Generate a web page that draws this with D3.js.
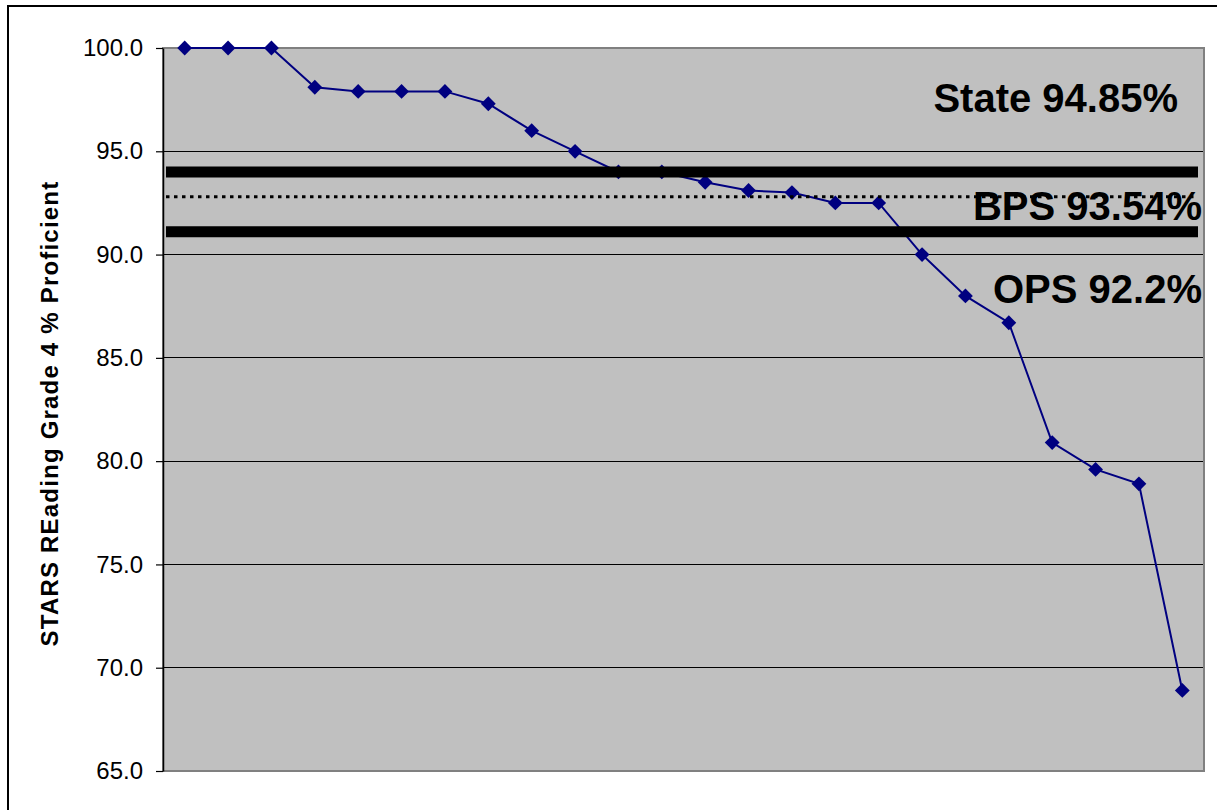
<!DOCTYPE html>
<html>
<head>
<meta charset="utf-8">
<script src="https://cdn.jsdelivr.net/npm/d3@7"></script>
<style>
  html, body { margin: 0; padding: 0; background: #ffffff; }
  svg { display: block; font-family: Arial, "Liberation Sans", sans-serif; }
</style>
</head>
<body>
<svg id="chart" width="1217" height="810"></svg>
<script>
// ---- data ----
const schools = d3.range(1, 25).map(i => "S" + i);
const proficiency = [100, 100, 100, 98.1, 97.9, 97.9, 97.9, 97.3, 96.0, 95.0, 94.0, 94.0,
                     93.5, 93.1, 93.0, 92.5, 92.5, 90.0, 88.0, 86.7, 80.9, 79.6, 78.9, 68.9];
const yTicks = [65, 70, 75, 80, 85, 90, 95, 100];
const refLineValues = [94.0, 92.8, 91.1];
const refLineStyles = ["thick", "dotted", "thick"];
const refLabels = ["State 94.85%", "BPS 93.54%", "OPS 92.2%"];
const refLabelValues = [96.9, 91.67, 87.66];
const yTitle = "STARS REading Grade 4 % Proficient";

// ---- layout ----
const svg = d3.select("#chart");
const plot = { left: 163, top: 48, right: 1204, bottom: 771 };

// outer frame (extends beyond the visible area on right and bottom)
svg.append("rect")
  .attr("x", 8).attr("y", 6).attr("width", 1240).attr("height", 840)
  .attr("fill", "#ffffff").attr("stroke", "#000").attr("stroke-width", 2);

const x = d3.scaleBand().domain(schools).range([plot.left, plot.right]);
const y = d3.scaleLinear().domain([65, 100]).range([plot.bottom, plot.top]);

// plot area
svg.append("rect")
  .attr("x", plot.left).attr("y", plot.top)
  .attr("width", plot.right - plot.left).attr("height", plot.bottom - plot.top)
  .attr("fill", "#C0C0C0");

// gridlines
svg.append("g").selectAll("line")
  .data(yTicks.filter(t => t > 65 && t < 100))
  .join("line")
  .attr("x1", plot.left).attr("x2", plot.right)
  .attr("y1", d => y(d)).attr("y2", d => y(d))
  .attr("stroke", "#000").attr("stroke-width", 1)
  .attr("shape-rendering", "crispEdges");

// plot border
svg.append("rect")
  .attr("x", plot.left).attr("y", plot.top)
  .attr("width", plot.right - plot.left).attr("height", plot.bottom - plot.top)
  .attr("fill", "none").attr("stroke", "#808080").attr("stroke-width", 2);

// y axis
const yAxis = d3.axisLeft(y).tickValues(yTicks).tickFormat(d3.format(".1f"))
  .tickSizeOuter(0).tickSizeInner(7).tickPadding(13);
const ga = svg.append("g").attr("transform", `translate(${plot.left},0)`).call(yAxis);
ga.select(".domain").attr("stroke", "#000").attr("stroke-width", 1.5);
ga.selectAll(".tick line").attr("stroke", "#000").attr("stroke-width", 1.2);
ga.selectAll(".tick text").attr("font-size", 24).attr("fill", "#000")
  .attr("font-family", "Arial, 'Liberation Sans', sans-serif");

// y title
svg.append("text")
  .attr("transform", `translate(58,${(plot.top + plot.bottom) / 2 + 4}) rotate(-90)`)
  .attr("text-anchor", "middle")
  .attr("font-size", 24).attr("font-weight", "bold").attr("fill", "#000")
  .attr("letter-spacing", 1.2)
  .text(yTitle);

// series line
const line = d3.line().x((d, i) => x(schools[i]) + x.bandwidth() / 2).y(d => y(d));
svg.append("path").datum(proficiency)
  .attr("d", line).attr("fill", "none")
  .attr("stroke", "#000080").attr("stroke-width", 2);

// markers
const diamond = d3.symbol().type(d3.symbolDiamond2).size(140);
svg.append("g").selectAll("path")
  .data(proficiency)
  .join("path")
  .attr("d", diamond)
  .attr("transform", (d, i) => `translate(${x(schools[i]) + x.bandwidth() / 2},${y(d)})`)
  .attr("fill", "#000080");

// reference lines
svg.append("g").selectAll("line")
  .data(refLineValues)
  .join("line")
  .attr("x1", plot.left + 3).attr("x2", plot.right - 6)
  .attr("y1", d => y(d)).attr("y2", d => y(d))
  .attr("stroke", "#000")
  .attr("stroke-width", (d, i) => refLineStyles[i] === "thick" ? 11 : 3)
  .attr("stroke-dasharray", (d, i) => refLineStyles[i] === "dotted" ? "3.5,4.5" : null);

// labels
const labelRight = [1178, 1202, 1202];
svg.append("g").selectAll("text")
  .data(refLabels)
  .join("text")
  .attr("x", (d, i) => labelRight[i])
  .attr("y", (d, i) => y(refLabelValues[i]))
  .attr("text-anchor", "end")
  .attr("font-size", 40).attr("font-weight", "bold").attr("fill", "#000")
  .text(d => d);
</script>
</body>
</html>
